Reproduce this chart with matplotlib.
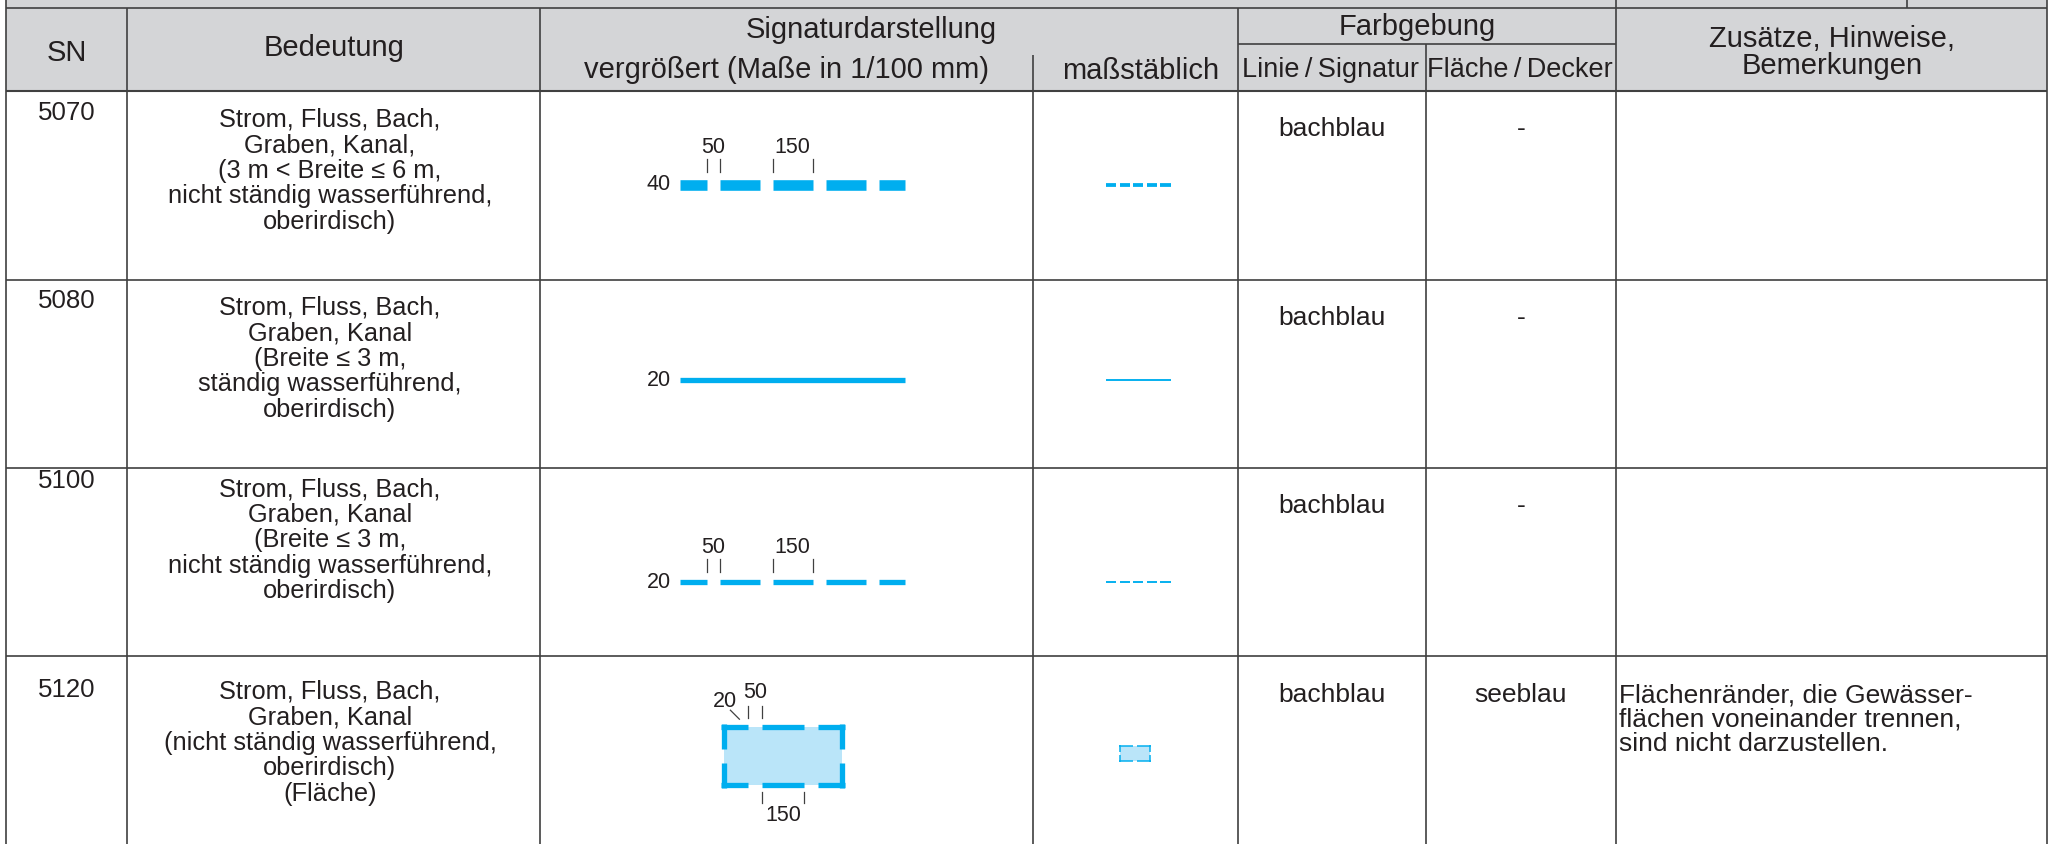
import matplotlib.pyplot as plt
from matplotlib.patches import Rectangle

plt.rcParams['font.family'] = ['Liberation Sans', 'DejaVu Sans']

# ---- table content ----
sn_codes = ['5070', '5080', '5100', '5120']
bedeutung = [
    'Strom, Fluss, Bach,\nGraben, Kanal,\n(3 m < Breite \u2264 6 m,\nnicht ständig wasserführend,\noberirdisch)',
    'Strom, Fluss, Bach,\nGraben, Kanal\n(Breite \u2264 3 m,\nständig wasserführend,\noberirdisch)',
    'Strom, Fluss, Bach,\nGraben, Kanal\n(Breite \u2264 3 m,\nnicht ständig wasserführend,\noberirdisch)',
    'Strom, Fluss, Bach,\nGraben, Kanal\n(nicht ständig wasserführend,\noberirdisch)\n(Fläche)',
]
farbe_linie = ['bachblau', 'bachblau', 'bachblau', 'bachblau']
farbe_flaeche = ['-', '-', '-', 'seeblau']
hinweise = ['', '', '', 'Flächenränder, die Gewässer-\nflächen voneinander trennen,\nsind nicht darzustellen.']

# signature geometry in 1/100 mm
sig_kind = ['dash', 'solid', 'dash', 'area']
sig_width = [40, 20, 20, 20]
dash_len = 150
gap_len = 50
sig_length = 850
area_w, area_h = 445, 220

# ---- layout (pixels) ----
W, H = 2052, 844
col_x = [6, 127, 540, 1033, 1238, 1426, 1616, 2047]
row_y = [91, 280, 468, 656, H]
top_y, sub_y = 8, 44
sn_base = [120, 308, 488, 697]
desc_base = [127, 315, 496, 699]
farb_base = [136, 325, 513, 702]
sig_y = [184.5, 379.5, 581.5, 756]
big_x0 = 680
small_x0 = 1106
big_scale = 0.265     # px per 1/100 mm, enlarged
small_scale = 0.068   # px per 1/100 mm, true scale
small_lw_scale = 0.095

blue = '#00aeef'
light = '#bae5f9'
grey_bg = '#d4d5d7'
line_c = '#404040'
txt_c = '#231f20'
fs_head = 21
fs_sub = 19.5
fs_desc = 18.3
fs_body = 19
fs_dim = 15.5

fig = plt.figure(figsize=(W / 100, H / 100), dpi=100)
ax = fig.add_axes([0, 0, 1, 1])
ax.set_xlim(0, W)
ax.set_ylim(H, 0)
ax.axis('off')

ax.add_patch(Rectangle((col_x[0], 0), col_x[-1] - col_x[0], row_y[0], fc=grey_bg, ec='none'))


def hline(y, x0, x1, lw=1.2):
    ax.plot([x0, x1], [y, y], color=line_c, lw=lw, solid_capstyle='butt')


def vline(x, y0, y1, lw=1.2):
    ax.plot([x, x], [y0, y1], color=line_c, lw=lw, solid_capstyle='butt')


hline(top_y, col_x[0], col_x[-1])
hline(row_y[0], col_x[0], col_x[-1], lw=1.5)
for y in row_y[1:-1]:
    hline(y, col_x[0], col_x[-1])
hline(sub_y, col_x[4], col_x[6])
for x in [col_x[0], col_x[1], col_x[2], col_x[4], col_x[6], col_x[-1]]:
    vline(x, top_y, H)
vline(col_x[3], 55, H)
vline(col_x[5], sub_y, H)
for x in [col_x[0], col_x[6], 1907, col_x[-1]]:
    vline(x, 0, top_y)


def lines_text(x, y0, s, step, fs, ha='center'):
    # one text per line, baselines `step` px apart
    for k, line in enumerate(s.split('\n')):
        ax.text(x, y0 + k * step, line, fontsize=fs, color=txt_c, ha=ha, va='baseline')


def head(x, y, s, fs=fs_head):
    lines_text(x, y, s, 27, fs)


head(67, 61, 'SN')
head(334, 56, 'Bedeutung')
head(871, 38, 'Signaturdarstellung')
head(786, 78, 'vergrößert (Maße in 1/100 mm)')
head(1141, 79, 'maßstäblich')
head(1417, 35, 'Farbgebung')
head(1331, 77, 'Linie\u2009/\u2009Signatur', fs=fs_sub)
head(1520, 77, 'Fläche\u2009/\u2009Decker', fs=fs_sub)
head(1832, 47, 'Zusätze, Hinweise,\nBemerkungen')


def dash_segments(length, d, g, phase):
    segs = []
    s = -phase
    while s < length:
        a, b = max(s, 0), min(s + d, length)
        if b > a:
            segs.append((a, b))
        s += d + g
    return segs


def draw_segs(x0, y, segs, scale, lw_px):
    for a, b in segs:
        ax.plot([x0 + a * scale, x0 + b * scale], [y, y], color=blue, lw=lw_px * 0.72, solid_capstyle='butt')


def edge_segments(length, n_gap):
    if n_gap == 1:
        c = (length - gap_len) / 2
        return [(0, c), (c + gap_len, length)]
    c = (length - dash_len - 2 * gap_len) / 2
    return [(0, c), (c + gap_len, c + gap_len + dash_len), (length - c, length)]


def draw_area(cx, cy, scale, lw_px, gaps_h, gaps_v):
    w, h = area_w * scale, area_h * scale
    x0, y0 = cx - w / 2, cy - h / 2
    ax.add_patch(Rectangle((x0, y0), w, h, fc=light, ec='none'))
    half = lw_px / 2
    ew, eh = w + lw_px, h + lw_px
    hor = edge_segments(area_w, gaps_h)
    side = edge_segments(area_h, gaps_v)
    for yy in (y0, y0 + h):
        for a, b in hor:
            ax.plot([x0 - half + a / area_w * ew, x0 - half + b / area_w * ew], [yy, yy],
                    color=blue, lw=lw_px * 0.72, solid_capstyle='butt')
    for xx in (x0, x0 + w):
        for a, b in side:
            ax.plot([xx, xx], [y0 - half + a / area_h * eh, y0 - half + b / area_h * eh],
                    color=blue, lw=lw_px * 0.72, solid_capstyle='butt')
    return x0, y0, w, h, ew


def tick_pair(xa, xb, y_top, y_bot, label, label_y):
    for xx in (xa, xb):
        ax.plot([xx, xx], [y_top, y_bot], color=line_c, lw=0.9)
    ax.text((xa + xb) / 2, label_y, label, fontsize=fs_dim, color=txt_c, ha='center', va='baseline')


for i in range(len(sn_codes)):
    lines_text(67, sn_base[i], sn_codes[i], 0, fs_desc + 0.3)
    lines_text(330, desc_base[i], bedeutung[i], 25.5, fs_desc)
    lines_text((col_x[4] + col_x[5]) / 2, farb_base[i], farbe_linie[i], 0, fs_body)
    lines_text((col_x[5] + col_x[6]) / 2, farb_base[i], farbe_flaeche[i], 0, fs_body)
    if hinweise[i]:
        lines_text(col_x[6] + 3, farb_base[i], hinweise[i], 24.5, fs_body, ha='left')

    y = sig_y[i]
    wd = sig_width[i]
    if sig_kind[i] in ('dash', 'solid'):
        if sig_kind[i] == 'solid':
            big = [(0, sig_length)]
            small = [(0, 5 * dash_len + 4 * gap_len)]
        else:
            big = dash_segments(sig_length, dash_len, gap_len, gap_len)
            small = dash_segments(5 * dash_len + 4 * gap_len, dash_len, gap_len, 0)
        draw_segs(big_x0, y, big, big_scale, wd * big_scale)
        draw_segs(small_x0, y, small, small_scale, wd * small_lw_scale)
        ax.text(big_x0 - 9, y + 6, str(wd), fontsize=fs_dim, color=txt_c, ha='right', va='baseline')
        if sig_kind[i] == 'dash':
            yt = y - wd * big_scale / 2
            tick_pair(big_x0 + big[0][1] * big_scale, big_x0 + big[1][0] * big_scale,
                      yt - 20, yt - 7, str(gap_len), yt - 26)
            tick_pair(big_x0 + big[2][0] * big_scale, big_x0 + big[2][1] * big_scale,
                      yt - 20, yt - 7, str(dash_len), yt - 26)
    else:
        lw_big = wd * big_scale
        x0, y0, w, h, ew = draw_area(783, y, big_scale, lw_big, 2, 1)
        draw_area(1135, y - 2.5, small_scale, 1.5, 1, 1)
        e = edge_segments(area_w, 2)
        left = x0 - lw_big / 2
        top_out = y0 - lw_big / 2
        bot_out = y0 + h + lw_big / 2
        tick_pair(left + e[0][1] / area_w * ew, left + e[1][0] / area_w * ew,
                  top_out - 18, top_out - 6, str(gap_len), top_out - 26)
        tick_pair(left + e[1][0] / area_w * ew, left + e[1][1] / area_w * ew,
                  bot_out + 4, bot_out + 15, str(dash_len), bot_out + 33)
        ax.plot([left + 18, left + 9], [top_out - 5, top_out - 14], color=line_c, lw=0.9)
        ax.text(left + 4, top_out - 17, str(wd), fontsize=fs_dim, color=txt_c, ha='center', va='baseline')

fig.savefig('out.png', dpi=100)
